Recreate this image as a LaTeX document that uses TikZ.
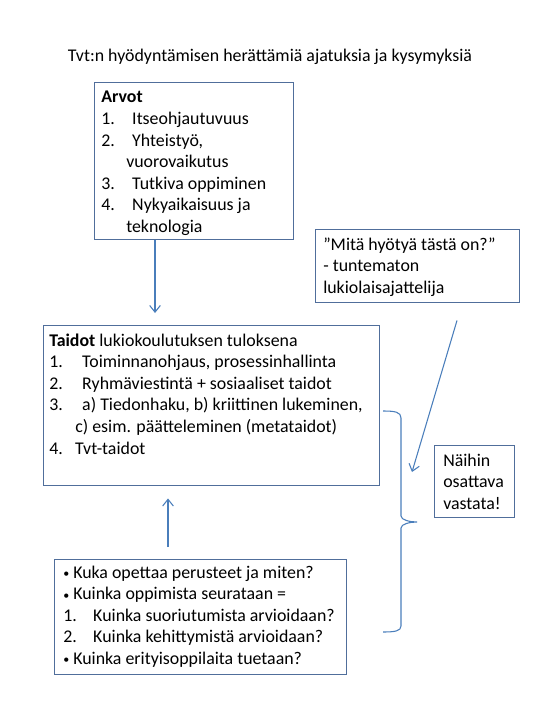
\documentclass[tikz,border=0pt]{standalone}
\usepackage{fontspec}
\setmainfont{Carlito}
\usetikzlibrary{arrows.meta,calc}
\newdimen\px \px=0.75pt
\definecolor{boxc}{RGB}{80,110,155}
\definecolor{arrc}{RGB}{74,126,187}
\newcommand{\tfont}{\fontsize{13.4}{16.2}\selectfont}
\newcommand{\bul}{\makebox[10\px][l]{\fontsize{9}{9}\selectfont\raisebox{0.4pt}{•}}}
\begin{document}
\begin{tikzpicture}[x=0.75pt,y=-0.75pt,
  box/.style={draw=boxc, line width=1.1pt, anchor=north west, inner sep=0pt},
  txt/.style={anchor=base west, inner sep=0pt, font=\tfont},
  arr/.style={draw=arrc, line width=0.8pt, -{Straight Barb[length=5pt,width=8pt]}},
  brace/.style={draw=arrc, line width=0.8pt},
]
\useasboundingbox (0,0) rectangle (540,720);

% title
\node[txt, anchor=base] (title) at (270,62) {Tvt:n hyödyntämisen herättämiä ajatuksia ja kysymyksiä};

% boxes
\node[box, minimum width=199\px, minimum height=157\px] (arvot) at (94,82) {};
\node[box, minimum width=336\px, minimum height=160\px] (taidot) at (43,325) {};
\node[box, minimum width=204\px, minimum height=73\px] (mita) at (315,229) {};
\node[box, minimum width=80\px, minimum height=72\px] (naihin) at (434,445) {};
\node[box, minimum width=292\px, minimum height=115\px] (kuka) at (54,559) {};

% texts
\node[txt] (arvott) at (101,103) {\parbox[t]{260\px}{\raggedright
\textbf{Arvot}\\
\makebox[31\px][l]{1.}Itseohjautuvuus\\
\makebox[31\px][l]{2.}Yhteistyö,\\
\hspace*{25\px}vuorovaikutus\\
\makebox[31\px][l]{3.}Tutkiva oppiminen\\
\makebox[31\px][l]{4.}Nykyaikaisuus ja\\
\hspace*{25\px}teknologia}};

\node[txt] (taidott) at (49,346) {\parbox[t]{400\px}{\raggedright
\textbf{Taidot} lukiokoulutuksen tuloksena\\
\makebox[33\px][l]{1.}Toiminnanohjaus, prosessinhallinta\\
\makebox[33\px][l]{2.}Ryhmäviestintä + sosiaaliset taidot\\
\makebox[33\px][l]{3.}a) Tiedonhaku, b) kriittinen lukeminen,\\
\hspace*{26\px}c) esim. päätteleminen (metataidot)\\
\makebox[26\px][l]{4.}Tvt-taidot}};

\node[txt] (mitat) at (323,250) {\parbox[t]{250\px}{\raggedright
”Mitä hyötyä tästä on?”\\
- tuntematon\\
lukiolaisajattelija}};

\node[txt] (naihint) at (443,466) {\parbox[t]{100\px}{\raggedright
Näihin\\
osattava\\
vastata!}};

\node[txt] (kukat) at (63,578) {\parbox[t]{350\px}{\raggedright
\bul Kuka opettaa perusteet ja miten?\\
\bul Kuinka oppimista seurataan =\\
\makebox[30\px][l]{1.}Kuinka suoriutumista arvioidaan?\\
\makebox[30\px][l]{2.}Kuinka kehittymistä arvioidaan?\\
\bul Kuinka erityisoppilaita tuetaan?}};

% connectors
\draw[arr] ([xshift=61\px]arvot.south west) -- ([xshift=112\px,yshift=12\px]taidot.north west);
\draw[arr] ([xshift=114\px,yshift=12\px]kuka.north west) -- ([xshift=125\px,yshift=-12\px]taidot.south west);
\coordinate (mtip) at (412,472);
\draw[arr] ([xshift=142\px,yshift=-17\px]mita.south west) -- (mtip);

% brace
\draw[brace] (383,411) .. controls (395,411) and (401,412) .. (401,418)
  -- (401,516) .. controls (401,520) and (410,522) .. (417,522)
  .. controls (410,522) and (401,524) .. (401,528)
  -- (401,626) .. controls (401,631) and (395,632) .. (383,632);
\end{tikzpicture}
\end{document}
